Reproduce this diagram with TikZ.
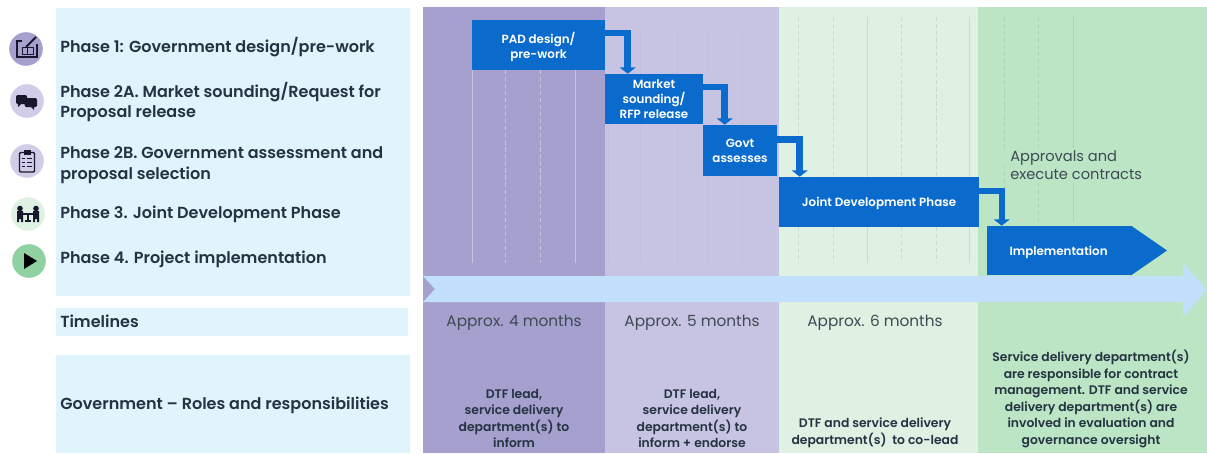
\documentclass[tikz,border=0pt]{standalone}
\usepackage{fontspec}
\usepackage{xcolor}
\usetikzlibrary{arrows.meta}
\setmainfont{Poppins}
\newfontfamily\medfont{Poppins Medium}
\newfontfamily\semifont{Poppins SemiBold}
\tikzset{
  phaselabel/.style={anchor=west,align=left,inner sep=0pt,text=ctx,font=\semifont\fontsize{11.4}{14.6}\selectfont},
  monthlabel/.style={inner sep=0pt,text=cmo,font=\fontsize{10.9}{12}\selectfont},
  rolelabel/.style={anchor=south,align=center,inner sep=0pt,text=ctx,font=\semifont\fontsize{8.8}{11.75}\selectfont},
  bluebox/.style={fill=cbox,text=white,align=center,inner sep=0pt,text depth=0pt,font=\semifont\fontsize{8.45}{10.8}\selectfont},
  elbow/.style={draw=cbox,line width=0.17cm,-{Triangle[width=0.4cm,length=0.16cm]}},
  iconbg/.style={circle,minimum size=0.84cm,inner sep=0pt},
  gridsolid/.style={line width=0.4pt},
  griddash/.style={line width=0.5pt,dash pattern=on 3pt off 2pt},
}
\begin{document}
\begin{tikzpicture}[x=0.025cm,y=-0.025cm]
\definecolor{cpn}{rgb}{0.875,0.955,0.99}
\definecolor{cc1}{rgb}{0.647,0.627,0.808}
\definecolor{cc2}{rgb}{0.780,0.769,0.890}
\definecolor{cc3}{rgb}{0.875,0.945,0.890}
\definecolor{cc4}{rgb}{0.733,0.898,0.773}
\definecolor{cbd}{rgb}{0.761,0.878,0.984}
\definecolor{cbox}{rgb}{0.039,0.420,0.800}
\definecolor{ctx}{rgb}{0.145,0.200,0.255}
\definecolor{cmo}{rgb}{0.240,0.290,0.330}
\definecolor{ci1}{rgb}{0.647,0.627,0.808}
\definecolor{ci2}{rgb}{0.820,0.800,0.910}
\definecolor{ci4}{rgb}{0.875,0.945,0.890}
\definecolor{ci5}{rgb}{0.560,0.820,0.630}
\definecolor{cg1}{rgb}{0.780,0.769,0.880}
\definecolor{cg2}{rgb}{0.755,0.745,0.870}
\definecolor{cg3}{rgb}{0.790,0.850,0.805}
\definecolor{cg4}{rgb}{0.670,0.830,0.710}
\definecolor{cicon}{rgb}{0.090,0.090,0.180}
\useasboundingbox (0,0) rectangle (1207,453);
%
\fill[cpn] (56,8) rectangle (410,296);
\fill[cpn] (56,308) rectangle (408,336);
\fill[cpn] (56,355) rectangle (410,453);
\fill[cc1] (423,7) rectangle (605,453);
\fill[cc2] (605,7) rectangle (779,453);
\fill[cc3] (779,7) rectangle (978,453);
\fill[cc4] (978,7) rectangle (1207,453);
%
\draw[gridsolid,cg1] (472,70) -- (472,263) (575,70) -- (575,263);
\draw[griddash,cg1] (505,70) -- (505,263) (540,70) -- (540,263);
\draw[gridsolid,cg2] (608,124) -- (608,263) (640,30) -- (640,74) (640,124) -- (640,263) (677,30) -- (677,74) (677,124) -- (677,263) (708,30) -- (708,74) (708,176) -- (708,263) (742,30) -- (742,125) (742,176) -- (742,263);
\draw[griddash,cg3] (798,17) -- (798,136) (798,227) -- (798,263) (833,17) -- (833,177) (833,227) -- (833,263) (901,17) -- (901,177) (901,227) -- (901,263) (936,17) -- (936,177) (936,227) -- (936,263);
\draw[gridsolid,cg3] (867,17) -- (867,177) (867,227) -- (867,263) (969,17) -- (969,177) (969,227) -- (969,263);
\draw[griddash,cg4] (1004,17) -- (1004,148) (1004,165) -- (1004,222) (1038,17) -- (1038,148) (1038,183) -- (1038,222);
\draw[gridsolid,cg4] (1073,17) -- (1073,148) (1073,183) -- (1073,222);
%
\fill[cbd] (423,276) -- (1183,276) -- (1183,263) -- (1207,290) -- (1183,317) -- (1183,302) -- (423,302) -- (435,289) -- cycle;
%
\node[iconbg,fill=ci1] (icon1) at (26,49) {};
\node[iconbg,fill=ci2] (icon2) at (27,101) {};
\node[iconbg,fill=ci2] (icon3) at (27,161) {};
\node[iconbg,fill=ci4] (icon4) at (28,214) {};
\node[iconbg,fill=ci5] (icon5) at (29,261) {};
%
\draw[cicon,line width=0.9pt] (22,41) -- (17,41) -- (17,57) -- (37,57) -- (37,44);
\draw[cicon,line width=0.6pt] (22,47) rectangle (33,54) (27.5,47) -- (27.5,54);
\draw[cicon,line width=1.3pt] (26,47) -- (36,37);
\fill[cicon,rounded corners=1pt] (16,95) rectangle (27,104);
\fill[cicon] (18,103) -- (18,107) -- (22,103) -- cycle;
\fill[cicon,rounded corners=1pt] (24.5,98) rectangle (37,107);
\fill[cicon] (34,106) -- (34,110) -- (30,106) -- cycle;
\draw[cicon,line width=1pt,rounded corners=0.8pt] (19.5,152.5) rectangle (34.5,172);
\fill[cicon] (23.5,150) rectangle (30.5,154.5);
\draw[cicon,line width=0.7pt] (22,158) -- (25,158) (27,158) -- (32,158) (22,162) -- (25,162) (27,162) -- (32,162) (22,166) -- (25,166) (27,166) -- (32,166);
\fill[cicon] (20,208.5) circle (2pt) (36,208.5) circle (2pt);
\fill[cicon] (17,211) rectangle (23,219) (33,211) rectangle (39,219);
\fill[cicon] (17,219) rectangle (19,222) (21,219) rectangle (23,222) (33,219) rectangle (35,222) (37,219) rectangle (39,222);
\draw[cicon,line width=0.8pt] (23,214) -- (33,214) (28,214) -- (28,221) (25,221) -- (31,221);
\fill[black] (24,253) -- (37,261) -- (24,269) -- cycle;
%
\node[phaselabel] (ph1) at (60,47) {Phase 1: Government design/pre-work};
\node[phaselabel] (ph2a) at (60,102) {Phase 2A. Market sounding/Request for\\Proposal release};
\node[phaselabel] (ph2b) at (60,165) {Phase 2B. Government assessment and\\proposal selection};
\node[phaselabel] (ph3) at (60,214) {Phase 3. Joint Development Phase};
\node[phaselabel] (ph4) at (60,259) {Phase 4. Project implementation};
\node[phaselabel] (tl) at (60,321) {Timelines};
\node[phaselabel] (gov) at (60,405) {Government – Roles and responsibilities};
%
\node[monthlabel] (mo1) at (514,322.5) {Approx. 4 months};
\node[monthlabel] (mo2) at (692,322.5) {Approx. 5 months};
\node[monthlabel] (mo3) at (875,322.5) {Approx. 6 months};
\node[monthlabel,anchor=west,align=left,font=\fontsize{10.4}{12.9}\selectfont] (appr) at (1010,165) {Approvals and\\execute contracts};
%
\node[rolelabel] (ro1) at (514,448) {DTF lead,\\service delivery\\department(s) to\\inform};
\node[rolelabel] (ro2) at (692,448) {DTF lead,\\service delivery\\department(s) to\\inform + endorse};
\node[rolelabel] (ro3) at (875,448) {DTF and service delivery\\department(s)\ \ to co-lead};
\node[rolelabel] (ro4) at (1091,448) {Service delivery department(s)\\are responsible for contract\\management. DTF and service\\delivery department(s) are\\involved in evaluation and\\governance oversight};
%
\node[bluebox,minimum width=3.325cm,minimum height=1.25cm] (pad) at (538.5,45) {PAD design/\\pre-work};
\node[bluebox,minimum width=2.45cm,minimum height=1.25cm] (market) at (654,99) {Market\\sounding/\\RFP release};
\node[bluebox,minimum width=1.85cm,minimum height=1.275cm] (govt) at (740,150.5) {Govt\\assesses};
\node[bluebox,minimum width=5cm,minimum height=1.25cm] (joint) at (879,202) {Joint Development Phase};
\node[bluebox,minimum width=3.625cm,minimum height=1.225cm,align=left,text width=2.5cm] (impl) at (1059.5,250.5) {Implementation};
\fill[cbox] ([xshift=-0.03cm]impl.north east) -- (1167,250.5) -- ([xshift=-0.03cm]impl.south east) -- cycle;
%
\draw[elbow] ([yshift=0.3cm]pad.east) -| ([xshift=0.575cm]market.north west);
\draw[elbow] ([yshift=0.3cm]market.east) -| ([xshift=0.55cm]govt.north west);
\draw[elbow] ([yshift=0.275cm]govt.east) -| ([xshift=0.525cm]joint.north west);
\draw[elbow,line width=0.14cm] ([yshift=0.275cm]joint.east) -| ([xshift=0.375cm]impl.north west);
%
\end{tikzpicture}
\end{document}
